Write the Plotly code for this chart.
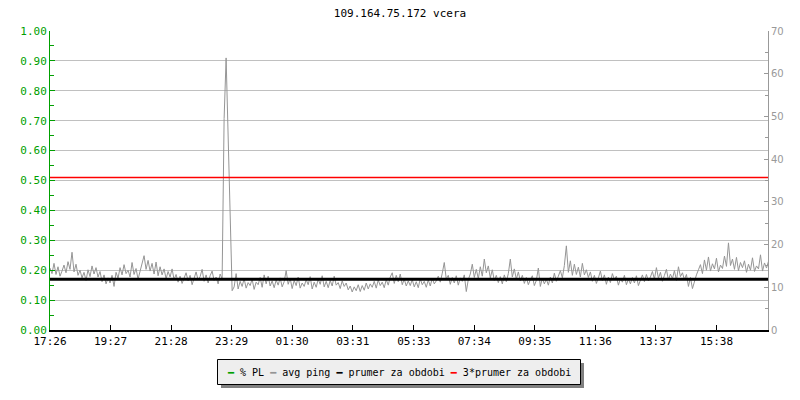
"""
Ping graph for 109.164.75.172 (yesterday) - rrdtool-like look in Plotly
"""

import plotly.graph_objects as go

# ---- data -------------------------------------------------------------
start_label = "17:26"
step_minutes = 4

# avg ping [ms], one sample every 4 minutes starting 17:26
avg_ping = [
    14.5, 13.2, 15.6, 13.0, 14.8, 12.6, 13.8, 15.2, 13.4, 16.0,
    14.2, 18.2, 13.6, 15.4, 12.8, 14.0, 12.2, 13.5, 11.6, 14.1,
    12.5, 15.0, 13.1, 14.6, 12.4, 13.7, 11.3, 12.9, 10.8, 12.2,
    11.0, 12.8, 10.2, 13.5, 12.1, 14.6, 12.9, 15.3, 13.2, 14.0,
    12.4, 15.8, 13.0, 14.4, 11.9, 13.6, 15.1, 17.4, 14.2, 16.3,
    13.8, 15.6, 13.1, 15.9, 12.7, 14.8, 12.9, 14.3, 12.0, 13.7,
    12.4, 14.3, 11.8, 13.0, 11.2, 12.6, 10.9, 12.3, 13.4, 11.5,
    12.8, 10.6, 12.1, 13.6, 11.7, 12.5, 14.2, 11.4, 12.9, 11.0,
    12.7, 13.8, 11.6, 12.4, 10.8, 13.1, 12.0, 49.5, 63.7, 47.0,
    26.0, 9.2, 10.1, 13.2, 9.6, 11.4, 10.2, 12.0, 9.8, 11.1,
    10.4, 11.9, 9.5, 11.2, 10.6, 12.3, 10.0, 12.9, 10.8, 12.6,
    10.3, 11.5, 9.9, 11.7, 10.5, 12.2, 10.1, 11.3, 13.9, 10.7,
    12.1, 9.7, 11.6, 10.4, 12.4, 9.8, 11.0, 10.2, 11.8, 10.6,
    12.5, 9.6, 11.2, 10.0, 11.9, 10.7, 12.7, 10.1, 11.4, 9.9,
    11.6, 10.3, 12.6, 10.5, 11.1, 9.7, 11.5, 10.2, 11.0, 9.4,
    10.3, 8.9, 10.1, 9.2, 10.6, 9.0, 10.4, 9.3, 11.0, 9.6,
    10.8, 10.0, 11.4, 9.8, 11.7, 10.4, 11.2, 9.9, 11.8, 10.5,
    12.4, 13.4, 10.9, 12.8, 11.3, 13.1, 10.6, 11.9, 10.3, 11.5,
    10.4, 11.8, 10.1, 11.3, 9.9, 12.0, 10.6, 11.4, 10.0, 11.7,
    10.3, 12.1, 10.8, 11.5, 12.6, 11.2, 13.3, 15.8, 11.9, 12.8,
    10.7, 12.3, 11.0, 12.7, 10.5, 12.2, 11.4, 12.9, 9.0, 11.8,
    13.1, 15.4, 12.3, 14.2, 12.0, 14.8, 12.6, 16.6, 13.4, 15.0,
    12.2, 14.1, 11.6, 12.8, 11.1, 12.5, 10.8, 12.9, 11.3, 13.2,
    16.6, 12.4, 14.3, 11.9, 13.6, 11.5, 12.8, 10.9, 12.3, 10.6,
    11.8, 12.7, 10.4, 11.6, 14.5, 10.2, 12.1, 10.8, 11.9, 10.5,
    12.4, 11.0, 13.3, 11.4, 12.6, 13.9, 12.2, 15.1, 19.7, 13.5,
    16.2, 12.8, 15.4, 13.0, 14.7, 12.4, 15.6, 12.9, 14.1, 12.3,
    13.6, 11.4, 12.8, 10.9, 12.2, 13.8, 11.6, 12.9, 10.7, 12.4,
    11.1, 13.2, 11.8, 12.6, 10.5, 12.0, 11.2, 12.8, 10.6, 11.9,
    10.8, 12.3, 11.0, 12.7, 10.4, 11.8, 12.9, 11.3, 13.0, 11.5,
    12.4, 13.7, 11.9, 14.6, 12.1, 13.5, 11.4, 12.8, 14.2, 11.7,
    13.1, 12.0, 13.9, 11.6, 14.8, 12.5, 13.4, 11.8, 13.0, 10.2,
    12.3, 9.7, 11.5, 12.9, 14.1, 15.3, 13.2, 16.4, 14.0, 17.1,
    13.8, 15.5, 14.3, 16.8, 13.6, 15.2, 14.4, 17.3, 14.9, 20.4,
    15.1, 16.6, 14.2, 17.0, 13.9, 15.8, 14.6, 16.2, 13.5, 15.4,
    14.0, 16.9, 13.7, 15.0, 14.3, 17.6, 13.8, 15.7, 14.5, 16.1,
]

# packet loss [%] - none during the day
packet_loss = [0.0] * len(avg_ping)

mean_ping = 11.9          # "prumer za obdobi"
mean_factor = 3           # "3*prumer za obdobi"

tick_labels = ["17:26", "19:27", "21:28", "23:29", "01:30", "03:31",
               "05:33", "07:34", "09:35", "11:36", "13:37", "15:38"]

title_text = "109.164.75.172 vcera"
legend_names = ["% PL", "avg ping", "prumer za obdobi", "3*prumer za obdobi"]

# ---- helpers ----------------------------------------------------------
# the page body has an 8px margin, so the figure is drawn at (8, 8)
OFF = 8
W, H = 800 - OFF, 400 - OFF
M = {"l": 50 - OFF, "r": 32, "t": 31 - OFF, "b": 70}
MONO = "DejaVu Sans Mono, monospace"

GREEN = "#00A000"
GRAY = "#959595"
RED = "#FF0000"
X_END = 1435


def _minutes(label):
    h, m = label.split(":")
    return int(h) * 60 + int(m)


def _offset(label):
    return (_minutes(label) - _minutes(start_label)) % 1440


def px_x(px):
    # page pixel -> paper coordinate
    return (px - OFF - M["l"]) / (W - M["l"] - M["r"])


def px_y(py):
    return (H - M["b"] - (py - OFF)) / (H - M["t"] - M["b"])


x_minutes = [i * step_minutes for i in range(len(avg_ping))]
tick_vals = [_offset(t) for t in tick_labels]

# ---- figure -----------------------------------------------------------
fig = go.Figure()

fig.add_trace(go.Scatter(
    x=x_minutes, y=avg_ping, yaxis="y2", mode="lines",
    line=dict(color=GRAY, width=1),
    name=legend_names[1], hoverinfo="skip"
))
fig.add_trace(go.Scatter(
    x=[0, X_END], y=[mean_ping, mean_ping], yaxis="y2", mode="lines",
    line=dict(color="black", width=3),
    name=legend_names[2], hoverinfo="skip"
))
fig.add_trace(go.Scatter(
    x=[0, X_END], y=[mean_ping * mean_factor] * 2, yaxis="y2", mode="lines",
    line=dict(color=RED, width=1.5),
    name=legend_names[3], hoverinfo="skip"
))

# legend box with shadow (rrdtool style)
shapes = [
    dict(type="rect", xref="paper", yref="paper", layer="above",
         x0=px_x(221), x1=px_x(584), y0=px_y(388), y1=px_y(363),
         fillcolor="#808080", line=dict(width=0)),
    dict(type="rect", xref="paper", yref="paper", layer="above",
         x0=px_x(217.5), x1=px_x(580.5), y0=px_y(384.5), y1=px_y(359.5),
         fillcolor="#EEEEEE", line=dict(color="black", width=1)),
]

swatch_colors = [GREEN, GRAY, "black", RED]
legend_html = " ".join(
    f"<span style='color:{c}'><b>━</b></span> {n}"
    for c, n in zip(swatch_colors, legend_names)
)

fig.add_annotation(
    text=legend_html, xref="paper", yref="paper",
    x=px_x(399), y=px_y(372), xanchor="center", yanchor="middle",
    showarrow=False, font=dict(family=MONO, size=10, color="black")
)

fig.update_layout(
    width=W, height=H,
    margin=M,
    paper_bgcolor="white",
    plot_bgcolor="white",
    showlegend=False,
    shapes=shapes,
    title=dict(text=title_text, x=(400 - OFF) / W, xref="container", xanchor="center",
               y=1 - (13 - OFF) / H, yanchor="middle",
               font=dict(family=MONO, size=11, color="black")),
    xaxis=dict(
        range=[0, X_END],
        tickvals=tick_vals, ticktext=tick_labels,
        ticks="inside", ticklen=5, tickcolor="black", tickwidth=1,
        showline=True, linecolor="black", linewidth=2,
        showgrid=False, zeroline=False,
        tickfont=dict(family=MONO, size=11, color="black"),
    ),
    yaxis=dict(
        range=[0, 1], dtick=0.1, tickformat=".2f",
        ticks="inside", ticklen=5, tickcolor=GREEN, tickwidth=1,
        minor=dict(dtick=0.05, ticks="inside", ticklen=4, tickcolor=GREEN, showgrid=False),
        showline=True, linecolor=GREEN, linewidth=1,
        showgrid=True, gridcolor="#C0C0C0", gridwidth=1,
        zeroline=False,
        tickfont=dict(family=MONO, size=11, color=GREEN),
    ),
    yaxis2=dict(
        range=[0, 70], dtick=10, overlaying="y", side="right",
        ticks="inside", ticklen=4, tickcolor="#999999", tickwidth=1,
        minor=dict(dtick=5, ticks="inside", ticklen=3, tickcolor="#999999", showgrid=False),
        showline=True, linecolor="#999999", linewidth=1,
        showgrid=False, zeroline=False,
        tickfont=dict(family="DejaVu Sans, sans-serif", size=10, color="#999999"),
    ),
)

# % PL series (always zero) - kept for completeness, sits on the x axis
fig.add_trace(go.Scatter(
    x=x_minutes, y=packet_loss, mode="lines", visible="legendonly",
    line=dict(color=GREEN, width=1), name=legend_names[0]
))

fig.write_html("out.html")
